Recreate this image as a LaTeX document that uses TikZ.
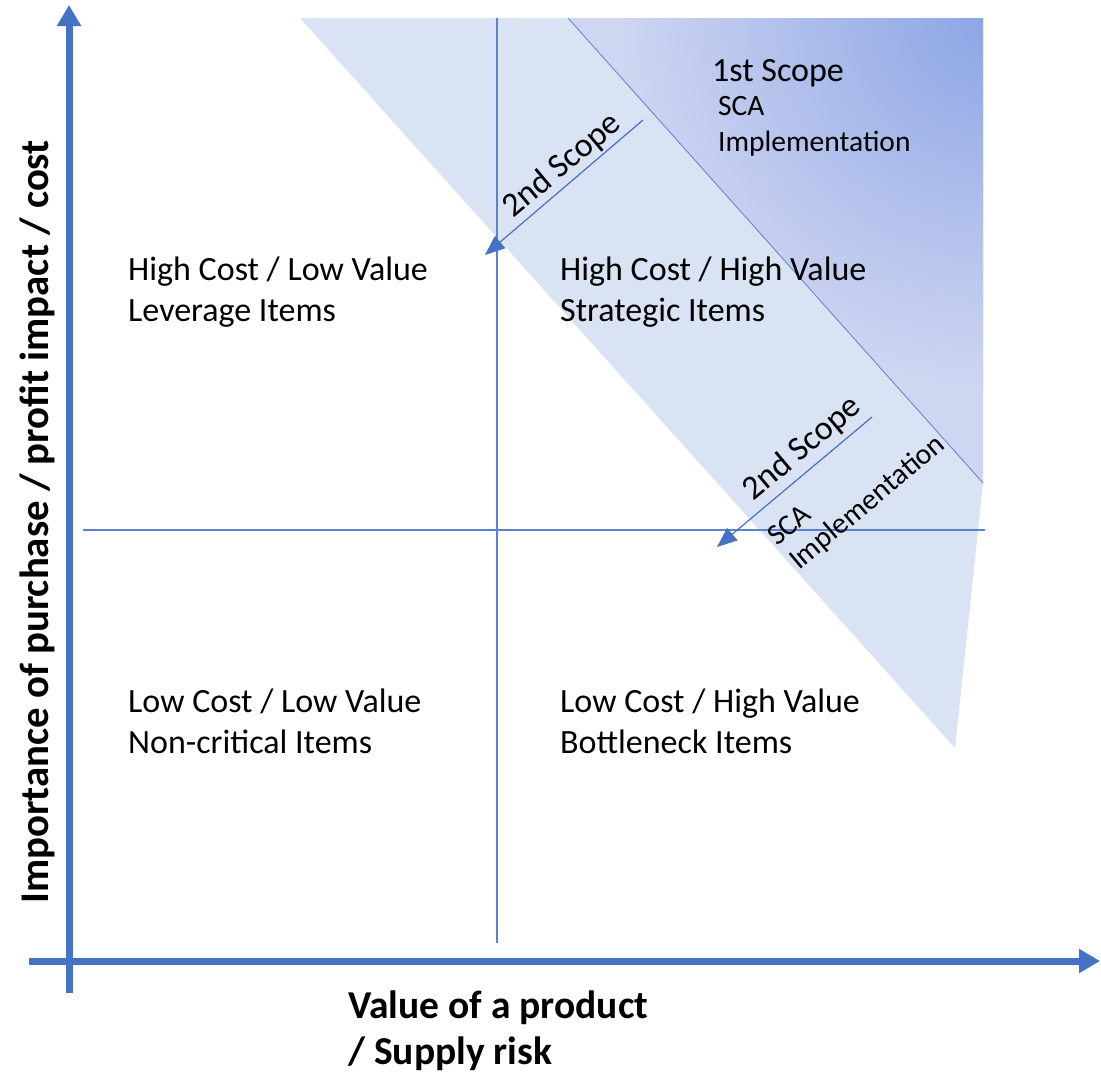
\documentclass[tikz,border=0pt]{standalone}
\usepackage{fontspec}
\setmainfont{Carlito}
\usetikzlibrary{arrows.meta}
\definecolor{axisblue}{HTML}{4472C4}
\definecolor{gridblue}{HTML}{5B82D0}
\definecolor{bandfill}{HTML}{DAE3F3}
\definecolor{coreinner}{HTML}{8BA4E5}
\definecolor{coreouter}{HTML}{CFD6F1}

\begin{document}
\begin{tikzpicture}[x=1pt,y=-1pt,
  axis/.style={draw=axisblue, line width=7pt, -{Triangle[length=21pt,width=23pt]}},
  gridline/.style={draw=gridblue, line width=1.1pt},
  shiftarrow/.style={draw=axisblue, line width=1.2pt, -{Triangle[length=20pt,width=16pt]}},
  quad/.style={anchor=base west, inner sep=0pt, font=\fontsize{34}{41}\selectfont},
  small/.style={anchor=base west, inner sep=0pt, font=\fontsize{29.5}{35}\selectfont},
  axislabel/.style={inner sep=0pt, font=\bfseries\fontsize{39.5}{48}\selectfont},
]
\useasboundingbox (0,0) rectangle (1101,1072);
\fill[white] (0,0) rectangle (1101,1072);

% band of the second scope
\fill[bandfill] (300,18) -- (983,18) -- (983,483) -- (955,748) -- cycle;

% first scope: corner triangle, darkening towards the top right corner
\begin{scope}
  \clip (568,18) -- (983,18) -- (983,483) -- cycle;
  \fill[coreouter] (568,18) -- (983,18) -- (983,483) -- cycle;
  \shade[inner color=coreinner, outer color=coreouter] (995,10) circle (380);
\end{scope}
\draw[gridblue, line width=0.8pt] (568,18) -- (983,483);

% quadrant dividers
\draw[gridline] (497,18) -- (497,943);
\draw[gridline] (83,530) -- (985,530);

% axes
\coordinate (yfoot) at (69,993);
\coordinate (ytip)  at (69,5);
\coordinate (xfoot) at (29,961);
\coordinate (xtip)  at (1100,961);
\draw[axis] (yfoot) -- (ytip);
\draw[axis] (xfoot) -- (xtip);

% scope shift arrows
\coordinate (s1from) at (643,120);
\coordinate (s1to)   at (485,255);
\coordinate (s2from) at (872,417);
\coordinate (s2to)   at (717,547);
\draw[shiftarrow] (s1from) -- (s1to);
\draw[shiftarrow] (s2from) -- (s2to);

% quadrant labels
\node[quad] (q1a) at (128,280) {High Cost / Low Value};
\node[quad] (q1b) at (128,321) {Leverage Items};
\node[quad] (q2a) at (560,280) {High Cost / High Value};
\node[quad] (q2b) at (560,321) {Strategic Items};
\node[quad] (q3a) at (128,712) {Low Cost / Low Value};
\node[quad] (q3b) at (128,753) {Non-critical Items};
\node[quad] (q4a) at (560,712) {Low Cost / High Value};
\node[quad] (q4b) at (560,753) {Bottleneck Items};

% first scope label
\node[quad]  (f1) at (712,81)  {1st Scope};
\node[small] (f2) at (718,115) {SCA};
\node[small] (f3) at (718,151) {Implementation};

% second scope labels
\node[quad, rotate=40]  (t1) at (513,219) {2nd Scope};
\node[quad, rotate=40]  (t2) at (753,502) {2nd Scope};
\node[small, rotate=40] (t3) at (777,547) {SCA};
\node[small, rotate=40] (t4) at (799,571) {Implementation};

% axis titles
\node[axislabel, rotate=90, font=\bfseries\fontsize{40.8}{48}\selectfont] (ylab) at (37,522) {Importance of purchase / profit impact / cost};
\node[axislabel, anchor=base west] (xlab1) at (348,1018) {Value of a product};
\node[axislabel, anchor=base west] (xlab2) at (348,1064) {/ Supply risk};
\end{tikzpicture}
\end{document}
